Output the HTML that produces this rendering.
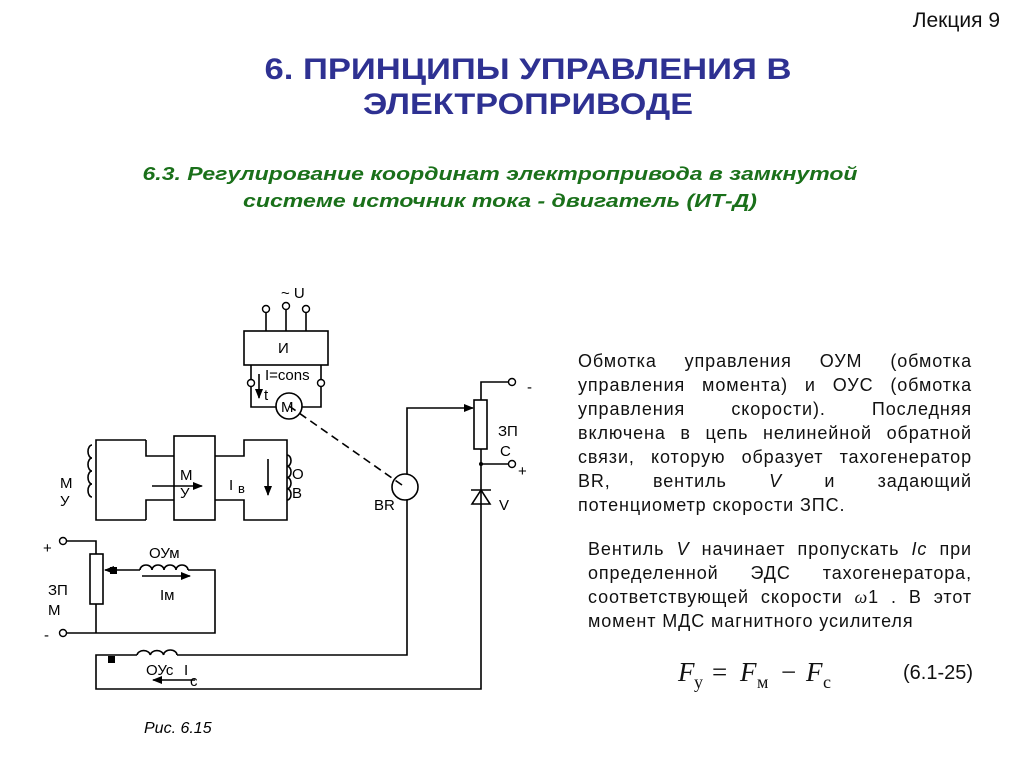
<!DOCTYPE html>
<html><head><meta charset="utf-8"><style>
html,body{margin:0;padding:0;background:#fff}
svg{display:block;position:absolute;left:0;top:0}
.t{position:absolute;font-family:"Liberation Sans","DejaVu Sans",sans-serif;font-size:18px;letter-spacing:0.9px;color:#111;white-space:nowrap;line-height:18px}
.j{text-align:justify;text-align-last:justify;white-space:normal}
.w{font-family:"Liberation Serif",serif;font-style:italic}
</style></head><body>
<svg width="1024" height="767" viewBox="0 0 1024 767" xmlns="http://www.w3.org/2000/svg" font-family="Liberation Sans, DejaVu Sans, sans-serif">
<defs><marker id="ah" markerWidth="10" markerHeight="8" refX="9" refY="4" orient="auto" markerUnits="userSpaceOnUse"><path d="M0,0 L10,4 L0,8 z" fill="#000"/></marker></defs>
<text x="1000" y="27" font-size="21" text-anchor="end" fill="#111">Лекция 9</text>
<text x="528" y="79" font-size="30" font-weight="bold" text-anchor="middle" fill="#2e3192" textLength="527" lengthAdjust="spacingAndGlyphs">6. ПРИНЦИПЫ УПРАВЛЕНИЯ В</text>
<text x="528" y="114" font-size="30" font-weight="bold" text-anchor="middle" fill="#2e3192" textLength="330" lengthAdjust="spacingAndGlyphs">ЭЛЕКТРОПРИВОДЕ</text>
<text x="500" y="180" font-size="18" font-weight="bold" font-style="italic" text-anchor="middle" fill="#1a701a" textLength="715" lengthAdjust="spacingAndGlyphs">6.3.  Регулирование координат электропривода в замкнутой</text>
<text x="500" y="207" font-size="18" font-weight="bold" font-style="italic" text-anchor="middle" fill="#1a701a" textLength="514" lengthAdjust="spacingAndGlyphs">системе источник тока - двигатель (ИТ-Д)</text>

<g stroke="#000" stroke-width="1.6" fill="none">
<line x1="266" y1="312" x2="266" y2="331"/><line x1="286" y1="309" x2="286" y2="331"/><line x1="306" y1="312" x2="306" y2="331"/>
<rect x="244" y="331" width="84" height="34"/>
<polyline points="251,365 251,407 276,407"/><polyline points="321,365 321,407 302,407"/>
<circle cx="289" cy="406" r="13"/>
<line x1="259" y1="374" x2="259" y2="398" marker-end="url(#ah)"/>
<line x1="289" y1="406" x2="402" y2="485" stroke-dasharray="8,5"/>
<polyline points="146,440 96,440 96,520 146,520"/>
<polyline points="146,440 146,456 174,456"/><polyline points="146,520 146,500 174,500"/>
<rect x="174" y="436" width="41" height="84"/>
<polyline points="215,456 244,456 244,440 287,440 287,520 244,520 244,500 215,500"/>
<line x1="152" y1="486" x2="202" y2="486" marker-end="url(#ah)"/>
<line x1="268" y1="459" x2="268" y2="495" marker-end="url(#ah)"/>
<polyline points="66,541 96,541 96,554"/>
<rect x="90" y="554" width="13" height="50"/>
<polyline points="96,604 96,633"/>
<polyline points="66,633 215,633 215,570 188,570"/>
<line x1="140" y1="570" x2="114" y2="570"/>
<line x1="114" y1="570" x2="105" y2="570" marker-end="url(#ah)"/>
<line x1="142" y1="576" x2="190" y2="576" marker-end="url(#ah)"/>
<polyline points="137,655 96,655 96,689 481,689 481,464"/>
<polyline points="177,655 407,655 407,500"/>
<line x1="195" y1="680" x2="153" y2="680" marker-end="url(#ah)"/>
<polyline points="407,474 407,408 473,408" marker-end="url(#ah)"/>
<circle cx="405" cy="487" r="13"/>
<polyline points="509,382 481,382 481,400"/>
<rect x="474" y="400" width="13" height="49"/>
<line x1="481" y1="449" x2="481" y2="464"/>
<line x1="481" y1="464" x2="509" y2="464"/>
<line x1="471" y1="490" x2="491" y2="490"/>
<polygon points="481,490 472,504 490,504"/>
<path d="M92,445 a4,6.5 0 0 0 0,13 a4,6.5 0 0 0 0,13 a4,6.5 0 0 0 0,13 a4,6.5 0 0 0 0,13"/>
<path d="M287,455 a4,5.6 0 0 1 0,11.25 a4,5.6 0 0 1 0,11.25 a4,5.6 0 0 1 0,11.25 a4,5.6 0 0 1 0,11.25"/>
<path d="M140,570 a6,5 0 0 1 12,0 a6,5 0 0 1 12,0 a6,5 0 0 1 12,0 a6,5 0 0 1 12,0"/>
<path d="M137,655 a6.7,5 0 0 1 13.3,0 a6.7,5 0 0 1 13.3,0 a6.7,5 0 0 1 13.4,0"/>
</g>
<g fill="#fff" stroke="#000" stroke-width="1.4">
<circle cx="266" cy="309" r="3.5"/><circle cx="286" cy="306" r="3.5"/><circle cx="306" cy="309" r="3.5"/>
<circle cx="251" cy="383" r="3.5"/><circle cx="321" cy="383" r="3.5"/>
<circle cx="63" cy="541" r="3.5"/><circle cx="63" cy="633" r="3.5"/>
<circle cx="512" cy="382" r="3.5"/><circle cx="512" cy="464" r="3.5"/>
</g>
<circle cx="481" cy="464" r="2" fill="#000"/>
<rect x="110" y="567" width="7" height="7" fill="#000"/>
<rect x="108" y="656" width="7" height="7" fill="#000"/>

<g font-size="15" fill="#000">
<text x="281" y="298">~ U</text>
<text x="278" y="353">И</text>
<text x="265" y="380">I=cons</text>
<text x="264" y="400">t</text>
<text x="281" y="412">M</text>
<text x="60" y="488">М</text><text x="60" y="506">У</text>
<text x="180" y="480">М</text><text x="180" y="498">У</text>
<text x="229" y="490">I</text><text x="238" y="493" font-size="13">в</text>
<text x="292" y="479">О</text><text x="292" y="498">В</text>
<text x="43" y="553">+</text>
<text x="48" y="595">ЗП</text><text x="48" y="615">М</text>
<text x="44" y="640">-</text>
<text x="149" y="558">ОУм</text>
<text x="160" y="600">Iм</text>
<text x="146" y="675">ОУс</text>
<text x="184" y="675">I</text><text x="190" y="686">с</text>
<text x="374" y="510">BR</text>
<text x="527" y="392">-</text>
<text x="498" y="436">ЗП</text><text x="500" y="456">С</text>
<text x="518" y="476">+</text>
<text x="499" y="510">V</text>
<text x="144" y="733" font-style="italic" font-size="16">Рис. 6.15</text>
</g>
<g fill="#111" style="font-family:'Liberation Serif',serif">
<text x="678" y="681" font-size="27" font-style="italic">F</text>
<text x="694" y="688" font-size="18">у</text>
<text x="712" y="681" font-size="27">=</text>
<text x="740" y="681" font-size="27" font-style="italic">F</text>
<text x="757" y="688" font-size="18">м</text>
<text x="781" y="681" font-size="27">−</text>
<text x="806" y="681" font-size="27" font-style="italic">F</text>
<text x="823" y="688" font-size="18">с</text>
</g>
<text x="903" y="679" font-size="20" fill="#111">(6.1-25)</text>
</svg>

<div class="t j" style="left:578px;top:352px;width:394px">Обмотка управления ОУМ (обмотка</div>
<div class="t j" style="left:578px;top:376px;width:394px">управления момента) и ОУС (обмотка</div>
<div class="t j" style="left:578px;top:400px;width:394px">управления скорости). Последняя</div>
<div class="t j" style="left:578px;top:424px;width:394px">включена в цепь нелинейной обратной</div>
<div class="t j" style="left:578px;top:448px;width:394px">связи, которую образует тахогенератор</div>
<div class="t j" style="left:578px;top:472px;width:394px">BR, вентиль <i>V</i> и задающий</div>
<div class="t" style="left:578px;top:496px">потенциометр скорости ЗПС.</div>
<div class="t j" style="left:588px;top:540px;width:384px">Вентиль <i>V</i> начинает пропускать <i>Ic</i> при</div>
<div class="t j" style="left:588px;top:564px;width:384px">определенной ЭДС тахогенератора,</div>
<div class="t j" style="left:588px;top:588px;width:384px">соответствующей скорости <span class="w">ω</span>1 . В этот</div>
<div class="t" style="left:588px;top:612px">момент МДС магнитного усилителя</div>
</body></html>
